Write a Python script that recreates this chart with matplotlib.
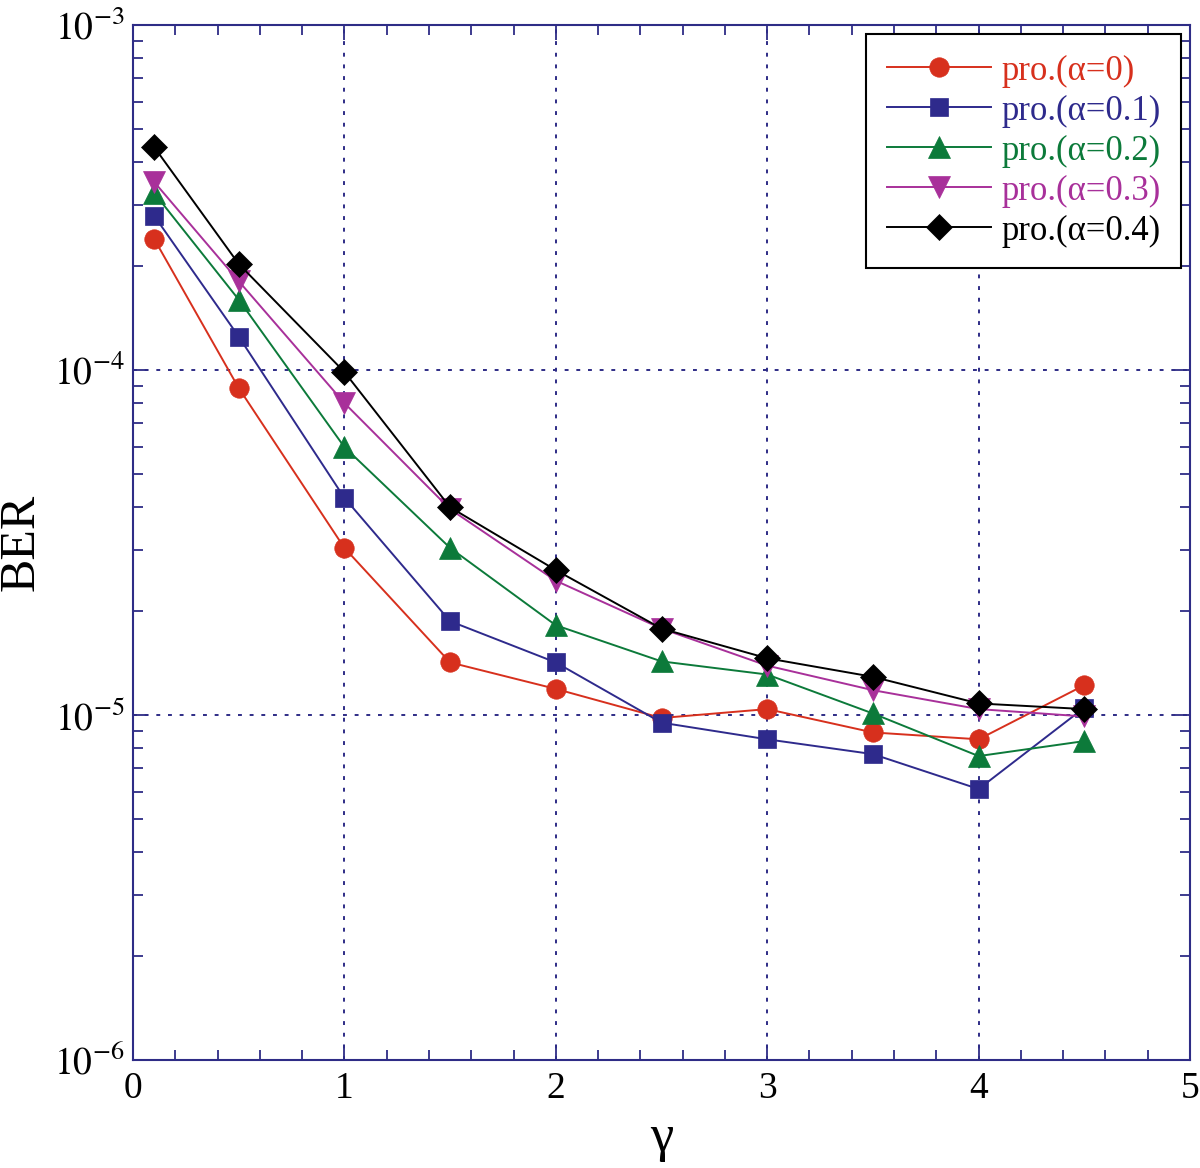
import numpy as np
import matplotlib
matplotlib.use('Agg')
import matplotlib.pyplot as plt
from matplotlib.ticker import LogLocator, MultipleLocator, FixedLocator, NullFormatter

plt.rcParams['font.family'] = ['Liberation Serif', 'DejaVu Serif']
plt.rcParams['mathtext.fontset'] = 'stix'

AXIS_NAVY = '#2e2c86'

# 数据
gamma = [0.1, 0.5, 1.0, 1.5, 2.0, 2.5, 3.0, 3.5, 4.0, 4.5]
ber_a0 = [2.40e-4, 8.87e-5, 3.05e-5, 1.42e-5, 1.19e-5, 9.8e-6, 1.04e-5, 8.9e-6, 8.5e-6, 1.22e-5]
ber_a1 = [2.80e-4, 1.25e-4, 4.26e-5, 1.87e-5, 1.42e-5, 9.5e-6, 8.5e-6, 7.7e-6, 6.1e-6, 1.05e-5]
ber_a2 = [3.26e-4, 1.60e-4, 5.98e-5, 3.05e-5, 1.82e-5, 1.43e-5, 1.31e-5, 1.01e-5, 7.6e-6, 8.4e-6]
ber_a3 = [3.51e-4, 1.81e-4, 8.02e-5, 3.95e-5, 2.45e-5, 1.78e-5, 1.39e-5, 1.18e-5, 1.04e-5, 9.9e-6]
ber_a4 = [4.43e-4, 2.03e-4, 9.87e-5, 4.00e-5, 2.63e-5, 1.78e-5, 1.46e-5, 1.29e-5, 1.08e-5, 1.04e-5]

labels = ['pro.(α=0)', 'pro.(α=0.1)', 'pro.(α=0.2)', 'pro.(α=0.3)', 'pro.(α=0.4)']
colors = ['#d7301d', '#2e2a8c', '#0c7a3a', '#a8309a', '#000000']
markers = ['o', 's', '^', 'v', 'D']
msizes = [14, 13, 16, 16, 13]

fig = plt.figure(figsize=(12, 11.68), dpi=100)
ax = fig.add_axes([0.1108, 0.0925, 0.8809, 0.8861])

series = [ber_a0, ber_a1, ber_a2, ber_a3, ber_a4]
for vals, lab, c, m, ms in zip(series, labels, colors, markers, msizes):
    ax.plot(gamma, vals, color=c, marker=m, markersize=ms, linewidth=1.4,
            label=lab, markeredgewidth=0.5, markeredgecolor=c)

ax.set_yscale('log')
ax.set_xlim(0, 5)
ax.set_ylim(1e-6, 1e-3)

ax.xaxis.set_major_locator(MultipleLocator(1))
ax.xaxis.set_minor_locator(MultipleLocator(0.2))
ax.yaxis.set_major_locator(FixedLocator([1e-6, 1e-5, 1e-4, 1e-3]))
ax.yaxis.set_minor_locator(LogLocator(base=10, subs=np.arange(2, 10), numticks=20))
ax.yaxis.set_minor_formatter(NullFormatter())
ax.set_yticklabels([r'$\mathrm{10^{-6}}$', r'$\mathrm{10^{-5}}$',
                    r'$\mathrm{10^{-4}}$', r'$\mathrm{10^{-3}}$'])

ax.tick_params(which='both', direction='in', top=True, right=True,
               color=AXIS_NAVY, width=1.3, labelcolor='black')
ax.tick_params(which='major', length=11, pad=8)
ax.tick_params(which='minor', length=7)
ax.tick_params(axis='x', labelsize=27)
ax.tick_params(axis='y', labelsize=27, pad=6)
for sp in ax.spines.values():
    sp.set_color(AXIS_NAVY)
    sp.set_linewidth(1.5)

ax.grid(True, which='major', color=AXIS_NAVY, linestyle=(0, (2, 4)), linewidth=1.4)

ax.set_xlabel('γ', fontsize=38, labelpad=6)
ax.set_ylabel('BER', fontsize=36)
ax.yaxis.set_label_coords(-0.084, 0.5)

leg = ax.legend(loc='upper right', fontsize=25, frameon=True, fancybox=False,
                handlelength=3.0, borderpad=0.6, labelspacing=0.2,
                handletextpad=0.3, borderaxespad=0.25)
leg.get_frame().set_edgecolor('black')
leg.get_frame().set_linewidth(1.5)
leg.get_frame().set_alpha(1)
for txt, c in zip(leg.get_texts(), colors):
    txt.set_color(c)

fig.savefig('out.png', dpi=100)
